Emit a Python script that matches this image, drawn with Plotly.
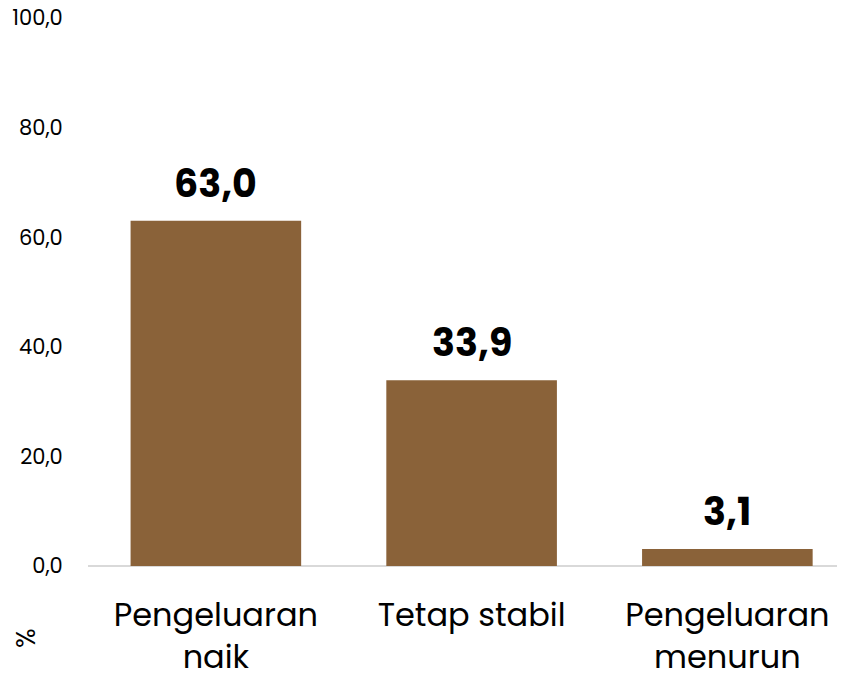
import plotly.graph_objects as go

categories = ["Pengeluaran<br>naik", "Tetap stabil", "Pengeluaran<br>menurun"]
values = [63.0, 33.9, 3.1]
y_ticks = [0, 20, 40, 60, 80, 100]

BAR_COLOR = "#8A6239"
FONT = "Poppins, Inter, Open Sans, sans-serif"

fig = go.Figure()
fig.add_trace(go.Bar(
    x=categories,
    y=values,
    marker=dict(color=BAR_COLOR, line=dict(width=0)),
    width=0.667,
))

# value labels above bars
for cat, val in zip(categories, values):
    fig.add_annotation(
        x=cat, y=val, text="<b>" + f"{val:.1f}".replace(".", ",") + "</b>",
        showarrow=False, yanchor="bottom", yshift=9,
        font=dict(family=FONT, size=38, color="#000000"),
    )

# axis unit label at the bottom left
fig.add_annotation(
    x=-62 / 757, y=-72 / 548, xref="paper", yref="paper",
    xanchor="center", yanchor="middle",
    text="%", textangle=-90, showarrow=False,
    font=dict(family=FONT, size=26, color="#000000"),
)

fig.update_layout(
    width=837, height=671,
    margin=dict(l=80, r=0, t=10, b=113),
    paper_bgcolor="#ffffff",
    plot_bgcolor="#ffffff",
    separators=",.",
    showlegend=False,
    font=dict(family=FONT, color="#000000"),
    xaxis=dict(
        range=[-0.5, 2.46],
        automargin=False,
        showgrid=False, showline=False, zeroline=False,
        ticks="outside", ticklen=21, tickcolor="rgba(0,0,0,0)",
        tickfont=dict(family=FONT, size=32, color="#000000"),
    ),
    yaxis=dict(
        range=[0, 100],
        automargin=False,
        tickvals=y_ticks, tickformat=".1f",
        ticklabeloverflow="allow",
        showgrid=False, showline=False,
        zeroline=True, zerolinecolor="#d9d9d9", zerolinewidth=2,
        ticks="outside", ticklen=20, tickcolor="rgba(0,0,0,0)",
        tickfont=dict(family=FONT, size=21, color="#000000"),
    ),
)

fig.write_html("out.html")
